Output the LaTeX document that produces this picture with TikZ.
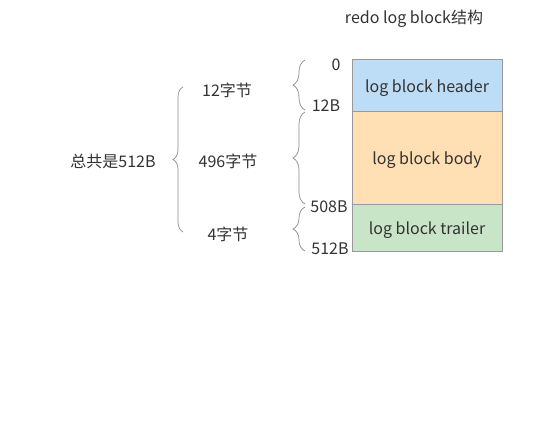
\documentclass[tikz,border=0pt]{standalone}
\usepackage{fontspec}
\setmainfont{Noto Sans CJK SC}
\usetikzlibrary{decorations.pathreplacing}
\definecolor{hdr}{HTML}{BDDCF6}
\definecolor{bdy}{HTML}{FFDFB3}
\definecolor{trl}{HTML}{C9E5C8}
\definecolor{edge}{HTML}{999999}
\definecolor{txt}{HTML}{333333}
\definecolor{brc}{HTML}{8C8C8C}
\tikzset{
  seg/.style={draw=edge, line width=0.8pt, minimum width=150pt, inner sep=0pt, text height=14pt, text depth=0pt, font=\fontsize{16}{18}\selectfont, text=txt},
  lbl/.style={inner sep=0pt, font=\fontsize{16}{18}\selectfont, text=txt},
  curly/.style={draw=brc, line width=0.7pt, decorate, decoration={brace, amplitude=#1}},
}
\begin{document}
\begin{tikzpicture}[x=1pt,y=-1pt]
\useasboundingbox (0,0) rectangle (551,421);
\fill[white] (0,0) rectangle (551,421);
\node[lbl] (title) at (414,19) {redo log block结构};
\node[seg, fill=hdr, minimum height=52pt] (hdr) at (427,85) {log block header};
\node[seg, fill=bdy, minimum height=93pt] (bdy) at (427,157.5) {log block body};
\node[seg, fill=trl, minimum height=47pt] (trl) at (427,227.5) {log block trailer};
\node[lbl] (o0) at (336,65) {0};
\node[lbl] (o12) at (326,106) {12B};
\node[lbl] (o508) at (329,207) {508B};
\node[lbl] (o512) at (330,249) {512B};
\coordinate (b1t) at (305,60);
\coordinate (b1b) at (305,110);
\coordinate (b2t) at (305,112);
\coordinate (b2b) at (305,204);
\coordinate (b3t) at (305,207);
\coordinate (b3b) at (305,251);
\draw[curly=12pt] (b1b) -- (b1t);
\draw[curly=12pt] (b2b) -- (b2t);
\draw[curly=12pt] (b3b) -- (b3t);
\node[lbl] (total) at (113,161) {总共是512B};
\coordinate (bigt) at (183,87);
\coordinate (bigb) at (183,232);
\draw[curly=10pt] (bigb) -- (bigt);
\node[lbl] (s12) at (227,90) {12字节};
\node[lbl] (s496) at (228,161) {496字节};
\node[lbl] (s4) at (228,234) {4字节};
\end{tikzpicture}
\end{document}
